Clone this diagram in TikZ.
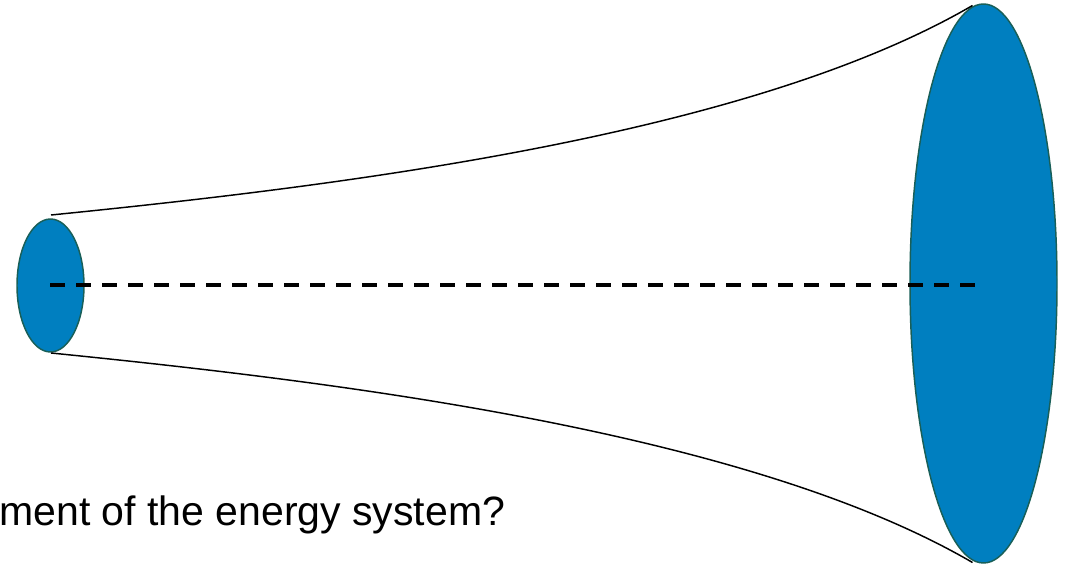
\documentclass[tikz,border=0pt]{standalone}
\usepackage{fontspec}
\setmainfont{Liberation Sans}
\usetikzlibrary{shapes.geometric}
\definecolor{discblue}{RGB}{0,127,192}
\definecolor{discedge}{RGB}{25,95,88}
\begin{document}
\begin{tikzpicture}[x=0.75pt,y=-0.75pt,
  disc/.style={ellipse, draw=discedge, fill=discblue, line width=1.1pt, inner sep=0pt},
  rim/.style={draw=black, line width=1.1pt},
  axisline/.style={draw=black, line width=2.7pt, dash pattern=on 11.25pt off 8.25pt},
  caption/.style={anchor=base west, inner sep=0pt, font=\fontsize{30.75pt}{36pt}\selectfont}]
\useasboundingbox (0,0) rectangle (1071,566);
\node[disc, minimum width=50.25pt, minimum height=99.75pt] (small) at (50.5,285.5) {};
\node[disc, minimum width=110.25pt, minimum height=419.25pt] (large) at (983.5,283.5) {};
\coordinate (tl) at (51,215);
\coordinate (bl) at (51,353);
\coordinate (tr) at (972.5,5.5);
\coordinate (br) at (972.5,562.5);
\coordinate (axL) at (50,285);
\coordinate (axR) at (975,285);
\draw[rim] (tl) .. controls (350,185) and (750,135) .. (tr);
\draw[rim] (bl) .. controls (350,383) and (750,433) .. (br);
\draw[axisline] (axL) -- (axR);
\node[caption] (cap) at (-1,525) {ment of the energy system?};
\end{tikzpicture}
\end{document}
